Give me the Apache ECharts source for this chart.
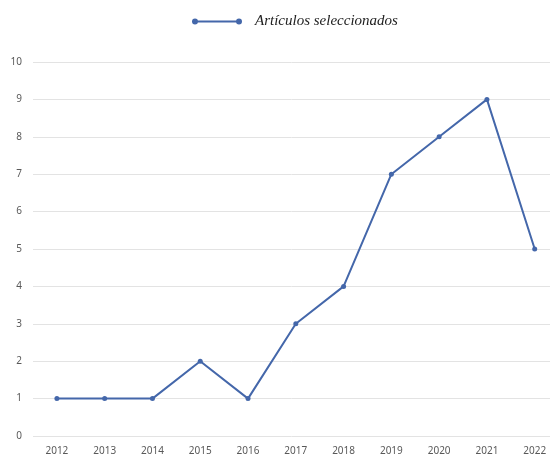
<!DOCTYPE html>
<html>
<head>
<meta charset="utf-8">
<script src="https://cdn.jsdelivr.net/npm/echarts@6/dist/echarts.min.js"></script>
<style>
  html, body { margin: 0; padding: 0; background: #fff; }
  #chart { width: 550px; height: 456px; }
</style>
</head>
<body>
<div id="chart"></div>
<script>
var years = [2012, 2013, 2014, 2015, 2016, 2017, 2018, 2019, 2020, 2021, 2022];
var articulos = [1, 1, 1, 2, 1, 3, 4, 7, 8, 9, 5];
var seriesName = 'Artículos seleccionados';

var myChart = echarts.init(document.getElementById('chart'), null, { renderer: 'canvas' });

var points = years.map(function (y, i) { return [y, articulos[i]]; });

var option = {
  animation: false,
  legend: {
    top: 9,
    left: 187,
    itemWidth: 50,
    itemHeight: 4,
    itemStyle: { color: '#4467aa', borderColor: '#4467aa', borderWidth: 2 },
    data: [{
      name: seriesName,
      icon: 'path://M0,2a2,2 0 1,0 4,0a2,2 0 1,0 -4,0zM44,2a2,2 0 1,0 4,0a2,2 0 1,0 -4,0zM2,2H46'
    }],
    textStyle: {
      fontFamily: 'Liberation Serif',
      fontStyle: 'italic',
      fontSize: 15,
      color: '#222',
      padding: [0, 0, 0, 8]
    }
  },
  grid: {
    left: 33,
    top: 62,
    right: 0,
    height: 375
  },
  xAxis: {
    type: 'value',
    min: 2011.5,
    max: 2022.32,
    axisLine: { show: false },
    axisTick: { show: false },
    splitLine: { show: false },
    axisLabel: {
      customValues: years,
      formatter: function (v) { return String(v); },
      color: '#595959',
      fontSize: 10,
      fontFamily: 'Noto Sans',
      margin: 10
    }
  },
  yAxis: {
    type: 'value',
    min: 0,
    max: 10,
    interval: 1,
    axisLine: { show: false },
    axisTick: { show: false },
    splitLine: { lineStyle: { color: '#e3e3e3', width: 1 } },
    axisLabel: {
      color: '#595959',
      fontSize: 10,
      fontFamily: 'Noto Sans',
      margin: 11
    }
  },
  series: [{
    name: seriesName,
    type: 'line',
    data: points,
    symbol: 'circle',
    symbolSize: 5,
    lineStyle: { color: '#4467aa', width: 2 },
    itemStyle: { color: '#4467aa' }
  }]
};

myChart.setOption(option);
window.addEventListener('resize', myChart.resize);
</script>
</body>
</html>
